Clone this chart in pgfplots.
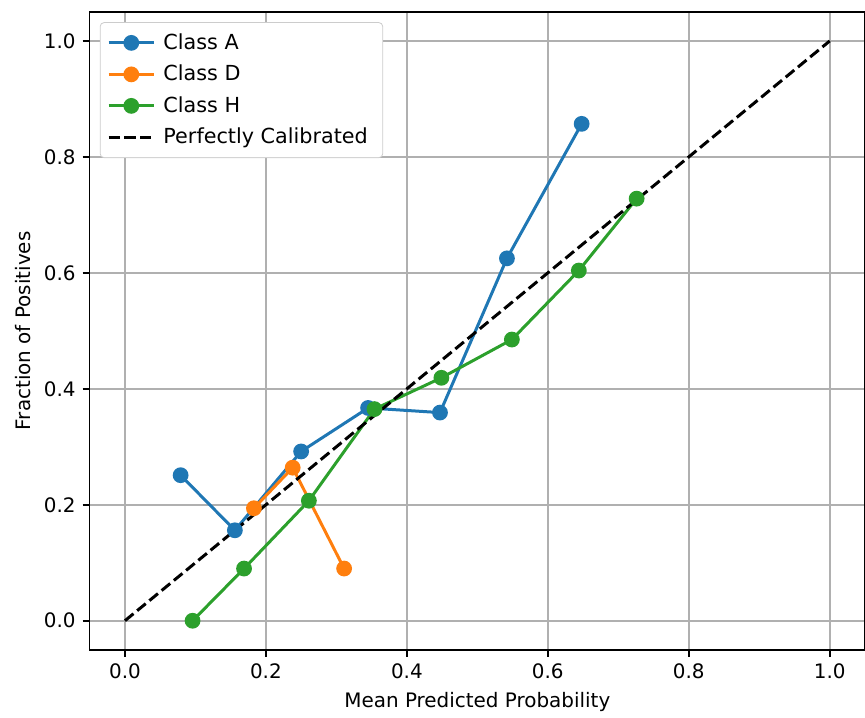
\documentclass[border=0pt]{standalone}
\usepackage{fontspec}
\setmainfont{DejaVu Sans}
\usepackage{pgfplots}
\pgfplotsset{compat=1.18}
\definecolor{tabblue}{HTML}{1F77B4}
\definecolor{taborange}{HTML}{FF7F0E}
\definecolor{tabgreen}{HTML}{2CA02C}
\definecolor{gridgray}{HTML}{B0B0B0}
\begin{document}
\begin{tikzpicture}
\begin{axis}[
  scale only axis,
  width=389pt, height=320pt,
  xmin=-0.05, xmax=1.05, ymin=-0.05, ymax=1.05,
  xtick={0,0.2,0.4,0.6,0.8,1.0},
  ytick={0,0.2,0.4,0.6,0.8,1.0},
  /pgf/number format/assume math mode=true,
  xticklabel style={/pgf/number format/.cd,fixed,fixed zerofill,precision=1},
  yticklabel style={/pgf/number format/.cd,fixed,fixed zerofill,precision=1},
  tick label style={font=\fontsize{10}{12}\selectfont},
  label style={font=\fontsize{10}{12}\selectfont},
  tick align=outside, tick pos=left,
  major tick length=3.5pt,
  every tick/.style={black, line width=0.8pt},
  axis line style={line width=0.8pt},
  grid=major,
  major grid style={gridgray, line width=0.8pt},
  xlabel={Mean Predicted Probability},
  ylabel={Fraction of Positives},
  legend style={at={(rel axis cs:0.013,0.984)}, anchor=north west,
    draw=black!20, rounded corners=2pt, fill=white,
    font=\fontsize{10.4}{12.5}\selectfont, row sep=2.4pt, inner sep=3.5pt,
    cells={anchor=west}, nodes={inner xsep=4pt}},
  legend cell align=left,
  legend image code/.code={
    \draw[mark repeat=2,mark phase=2] plot coordinates {(0cm,0cm) (0.4cm,0cm) (0.8cm,0cm)};
  },
]
\addplot[tabblue, line width=1.5pt, mark=*, mark size=3.2pt, mark options={solid,fill=tabblue,draw=tabblue}] coordinates {
(0.079,0.251) (0.156,0.156) (0.250,0.292) (0.345,0.367) (0.447,0.359) (0.542,0.625) (0.648,0.857)};
\addlegendentry{Class A}
\addplot[taborange, line width=1.5pt, mark=*, mark size=3.2pt, mark options={solid,fill=taborange,draw=taborange}] coordinates {
(0.183,0.194) (0.238,0.264) (0.311,0.090)};
\addlegendentry{Class D}
\addplot[tabgreen, line width=1.5pt, mark=*, mark size=3.2pt, mark options={solid,fill=tabgreen,draw=tabgreen}] coordinates {
(0.096,0.000) (0.169,0.090) (0.261,0.207) (0.354,0.365) (0.449,0.419) (0.549,0.485) (0.644,0.604) (0.726,0.728)};
\addlegendentry{Class H}
\addplot[black, line width=1.5pt, dash pattern=on 5.55pt off 2.4pt] coordinates {(0,0) (1,1)};
\addlegendentry{Perfectly Calibrated}
\end{axis}
\pgfresetboundingbox
\path (current axis.south west) ++(-45pt,-34pt) coordinate (bbsw);
\path (current axis.north east) ++(0pt,6pt) coordinate (bbne);
\path[use as bounding box] (bbsw) rectangle (bbne);
\end{tikzpicture}
\end{document}
